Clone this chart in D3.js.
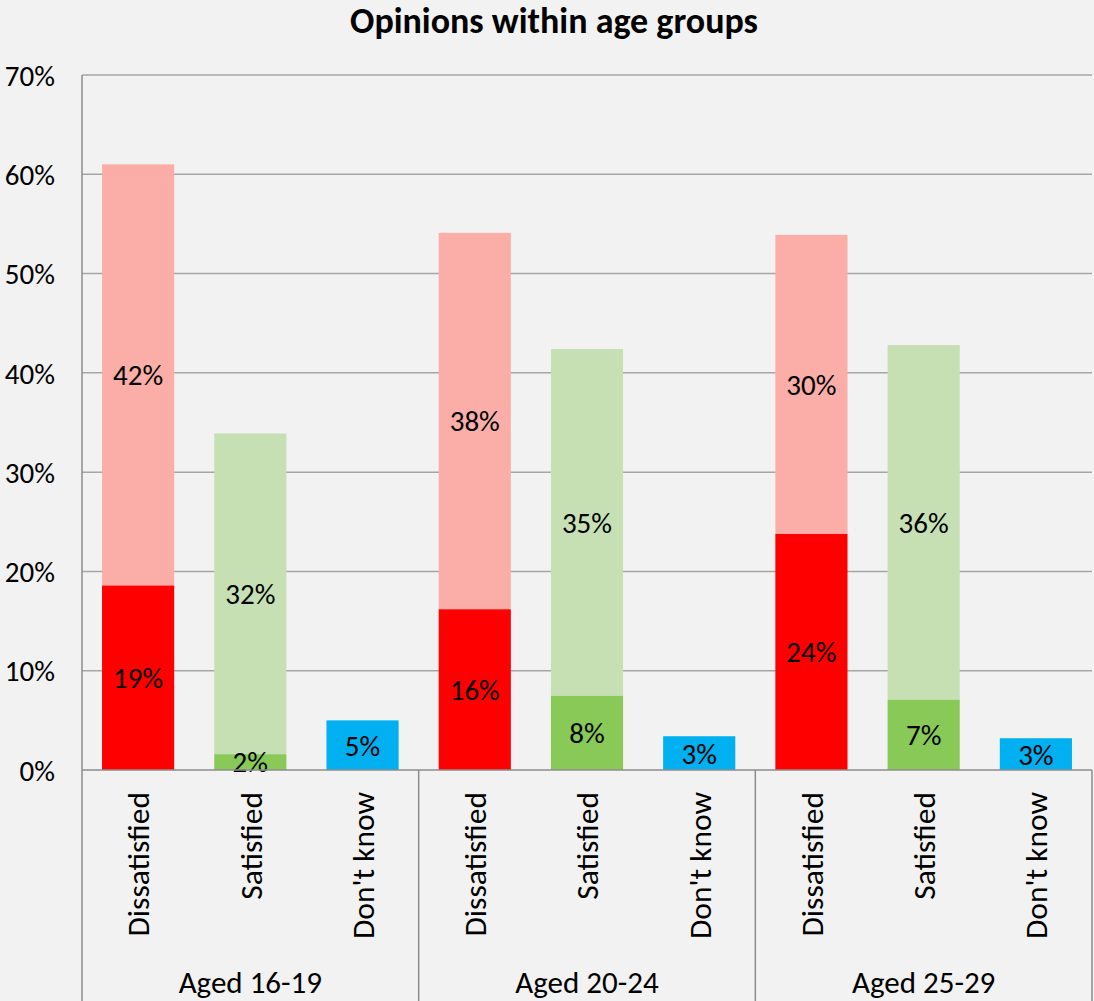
<!DOCTYPE html>
<html>
<head>
<meta charset="utf-8">
<script src="https://cdn.jsdelivr.net/npm/d3@7"></script>
<style>
  html, body { margin: 0; padding: 0; background: #f2f2f2; }
  svg { display: block; }
  text { font-family: Carlito, Calibri, Lato, "Open Sans", sans-serif; fill: #000; }
</style>
</head>
<body>
<svg id="chart" width="1094" height="1001"></svg>
<script>
// Age groups and answer categories
const groups = ["Aged 16-19", "Aged 20-24", "Aged 25-29"];
const categories = ["Dissatisfied", "Satisfied", "Don't know"];

// Strongly held opinion (darker segment), per group, in %
const dissatisfiedStrong = [18.6, 16.2, 23.8];
const satisfiedStrong = [1.6, 7.5, 7.1];
const dontKnow = [5.0, 3.4, 3.2];

// Milder opinion (lighter segment stacked on top), per group, in %
const dissatisfiedMild = [42.4, 37.9, 30.1];
const satisfiedMild = [32.3, 34.9, 35.7];

const yTicks = [0, 10, 20, 30, 40, 50, 60, 70];

const colors = {
  "Dissatisfied": { strong: "#ff0000", mild: "#fbaea8" },
  "Satisfied": { strong: "#88c957", mild: "#c6e0b4" },
  "Don't know": { strong: "#00b0f0", mild: "#00b0f0" }
};

// Flatten into rows: one per group/category bar
const rows = [];
groups.forEach((g, i) => {
  rows.push({ group: g, category: "Dissatisfied", strong: dissatisfiedStrong[i], mild: dissatisfiedMild[i] });
  rows.push({ group: g, category: "Satisfied", strong: satisfiedStrong[i], mild: satisfiedMild[i] });
  rows.push({ group: g, category: "Don't know", strong: dontKnow[i], mild: 0 });
});

const svg = d3.select("#chart");
const plot = { left: 82, right: 1092, top: 75, bottom: 770 };

const x0 = d3.scaleBand().domain(groups).range([plot.left, plot.right]).padding(0);
const x1 = d3.scaleBand().domain(categories).range([0, x0.bandwidth()])
  .paddingInner(0.357).paddingOuter(0.1785);
const y = d3.scaleLinear().domain([0, 70]).range([plot.bottom, plot.top]);

// Title
svg.append("text")
  .attr("x", 554).attr("y", 33)
  .attr("text-anchor", "middle")
  .style("font-weight", "bold")
  .style("font-size", "36px")
  .text("Opinions within age groups");

// Gridlines
svg.append("g")
  .selectAll("line")
  .data(yTicks.filter(t => t > 0))
  .join("line")
  .attr("x1", plot.left).attr("x2", plot.right)
  .attr("y1", d => y(d)).attr("y2", d => y(d))
  .attr("stroke", "#a6a6a6").attr("stroke-width", 1.5);

// Y axis
const yAxis = svg.append("g")
  .attr("transform", `translate(${plot.left},0)`)
  .call(d3.axisLeft(y).tickValues(yTicks).tickFormat(d => d + "%").tickSize(0).tickPadding(27));
yAxis.select(".domain").remove();
yAxis.selectAll("text").style("font-size", "29px").attr("dy", "0.35em");

// Stacked segments
const stack = d3.stack().keys(["strong", "mild"]);
const series = stack(rows);

const barG = svg.append("g");
series.forEach(s => {
  barG.append("g")
    .selectAll("rect")
    .data(s.filter(d => d.data[s.key] > 0))
    .join("rect")
    .attr("x", d => x0(d.data.group) + x1(d.data.category))
    .attr("width", x1.bandwidth())
    .attr("y", d => y(d[1]))
    .attr("height", d => y(d[0]) - y(d[1]))
    .attr("fill", d => colors[d.data.category][s.key]);
});

// Value labels centred in each segment
series.forEach(s => {
  barG.append("g")
    .selectAll("text")
    .data(s.filter(d => d.data[s.key] > 0))
    .join("text")
    .attr("x", d => x0(d.data.group) + x1(d.data.category) + x1.bandwidth() / 2)
    .attr("y", d => (y(d[0]) + y(d[1])) / 2)
    .attr("dy", "0.36em")
    .attr("text-anchor", "middle")
    .style("font-size", "29px")
    .text(d => Math.round(d.data[s.key]) + "%");
});

// Axis lines
svg.append("line")
  .attr("x1", plot.left).attr("x2", plot.left)
  .attr("y1", plot.top).attr("y2", 1001)
  .attr("stroke", "#8c8c8c").attr("stroke-width", 1.5);
svg.append("line")
  .attr("x1", plot.left).attr("x2", plot.right)
  .attr("y1", plot.bottom).attr("y2", plot.bottom)
  .attr("stroke", "#8c8c8c").attr("stroke-width", 1.5);

// Group separators below the axis
svg.append("g")
  .selectAll("line")
  .data(groups.slice(1).map(g => x0(g)).concat([plot.right]))
  .join("line")
  .attr("x1", d => d).attr("x2", d => d)
  .attr("y1", plot.bottom).attr("y2", 1001)
  .attr("stroke", "#8c8c8c").attr("stroke-width", 1.5);

// Category labels (rotated)
const catLabels = [];
groups.forEach(g => categories.forEach(c => catLabels.push({ group: g, category: c })));
svg.append("g")
  .selectAll("text")
  .data(catLabels)
  .join("text")
  .attr("transform", d => `translate(${x0(d.group) + x1(d.category) + x1.bandwidth() / 2},792) rotate(-90)`)
  .attr("text-anchor", "end")
  .attr("dy", "0.36em")
  .style("font-size", "31.5px")
  .text(d => d.category);

// Group labels
svg.append("g")
  .selectAll("text")
  .data(groups)
  .join("text")
  .attr("x", d => x0(d) + x0.bandwidth() / 2)
  .attr("y", 993)
  .attr("text-anchor", "middle")
  .style("font-size", "31px")
  .text(d => d);
</script>
</body>
</html>
